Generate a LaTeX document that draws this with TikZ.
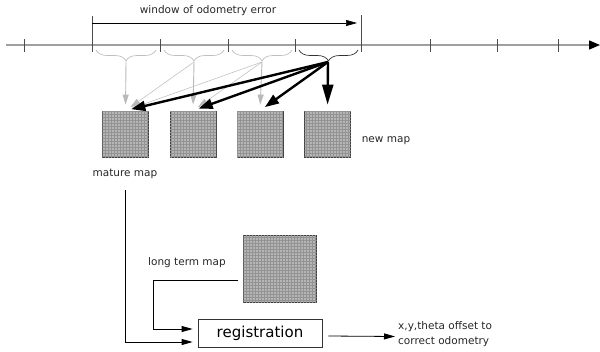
\documentclass[tikz,border=0pt]{standalone}
\usepackage{fontspec}
\setmainfont{DejaVu Sans}
\usetikzlibrary{arrows.meta,decorations.pathreplacing,patterns}

\tikzset{
  mapbox/.style={draw=black!75, line width=0.8pt, fill=gray!58, inner sep=0pt,
    minimum width=46pt, minimum height=46pt,
    postaction={pattern=grid, pattern color=gray!85}},
  lbl/.style={font=\fontsize{10.5}{14}\selectfont, inner sep=0pt, text=black!85},
  thinarr/.style={line width=0.6pt, -{Triangle[length=11pt,width=6pt]}},
  grayarr/.style={gray!55, line width=0.9pt, shorten >=6pt, -{Triangle[length=10pt,width=6pt]}},
  faintarr/.style={gray!55, line width=0.5pt, shorten >=6pt, -{Triangle[length=10pt,width=6pt]}},
  boldarr/.style={black, line width=2.4pt, shorten >=6pt, -{Triangle[length=14pt,width=10pt]}},
  gbrace/.style={decorate, decoration={brace, mirror, amplitude=11pt}, gray!50, line width=0.7pt},
}

\begin{document}
\begin{tikzpicture}[x=1pt, y=-1pt]
        \useasboundingbox (0,0) rectangle (600,351);

        % time axis
        \coordinate (s) at (6,45);
        \coordinate (e) at (600,45);
        \draw[gray!75, line width=1.3pt, -{Triangle[length=11pt,width=9pt,black]}] (s) -- (e);
        \foreach \x in {24,160,228,295,430,497,558}
                \draw[gray!60!black, line width=0.7pt] (\x,39) -- (\x,52);

        % window of odometry error
        \node[lbl] (w) at (208,11) {window of odometry error};
        \coordinate (wl) at (92,23);
        \coordinate (wr) at (357,23);
        \draw[gray!60!black, line width=0.7pt] (92,16) -- (92,52);
        \draw[gray!60!black, line width=0.7pt] (361,15) -- (361,52);
        \draw[thinarr] (wl) -- (wr);

        % braces
        \draw[gbrace] (96,50) -- (156,50);
        \draw[gbrace] (164,50) -- (224,50);
        \draw[gbrace] (232,50) -- (292,50);
        \draw[gbrace, black!80] (299,50) -- (358,50);
        \coordinate (b1) at (126,62);
        \coordinate (b2) at (194,62);
        \coordinate (b3) at (262,62);
        \coordinate (b4) at (328,62);

        % maps
        \node[mapbox] (m1) at (125.5,134) {};
        \node[mapbox] (m2) at (193,134) {};
        \node[mapbox] (m3) at (260,134) {};
        \node[mapbox] (m4) at (327.5,134) {};
        \node[lbl] (nm) at (386,141) {new map};
        \node[lbl] (mm) at (125,174) {mature map};

        \draw[grayarr] (b1) -- (m1.north);
        \draw[grayarr] (b2) -- (m2.north);
        \draw[grayarr] (b3) -- (m3.north);
        \draw[faintarr] (b2) -- (m1.north);
        \draw[faintarr] (b3) -- (m1.north);
        \draw[faintarr] (b3) -- (m2.north);

        \draw[boldarr] (b4) -- (m1.north);
        \draw[boldarr] (b4) -- (m2.north);
        \draw[boldarr] (b4) -- (m3.north);
        \draw[boldarr, -{Triangle[length=20pt,width=11pt]}] (b4) -- (m4.north);

        % long term map and registration
        \node[mapbox, minimum width=73pt, minimum height=67pt] (ltm) at (280,268.5) {};
        \node[lbl] (lt) at (187,263) {long term map};
        \node[draw=black!80, line width=0.8pt, minimum width=124pt, minimum height=28pt,
              font=\fontsize{15}{18}\selectfont] (reg) at (260,333) {registration};
        \node[lbl, anchor=west, align=left, font=\fontsize{10.5}{15}\selectfont] (out) at (398,334)
              {x,y,theta offset to\\correct odometry};

        \draw[thinarr, line width=0.8pt] ([xshift=-5pt,yshift=-11.5pt]ltm.west) -- (153,280)
              |- ([xshift=-5pt,yshift=4pt]reg.west);
        \draw[thinarr, line width=0.8pt] ([yshift=-11pt]mm.south) |- ([xshift=-5pt,yshift=-9pt]reg.west);
        \draw[thinarr, line width=0.8pt] ([xshift=6pt,yshift=-3pt]reg.east) -- ([xshift=-3pt,yshift=-2.5pt]out.west);
\end{tikzpicture}
\end{document}
